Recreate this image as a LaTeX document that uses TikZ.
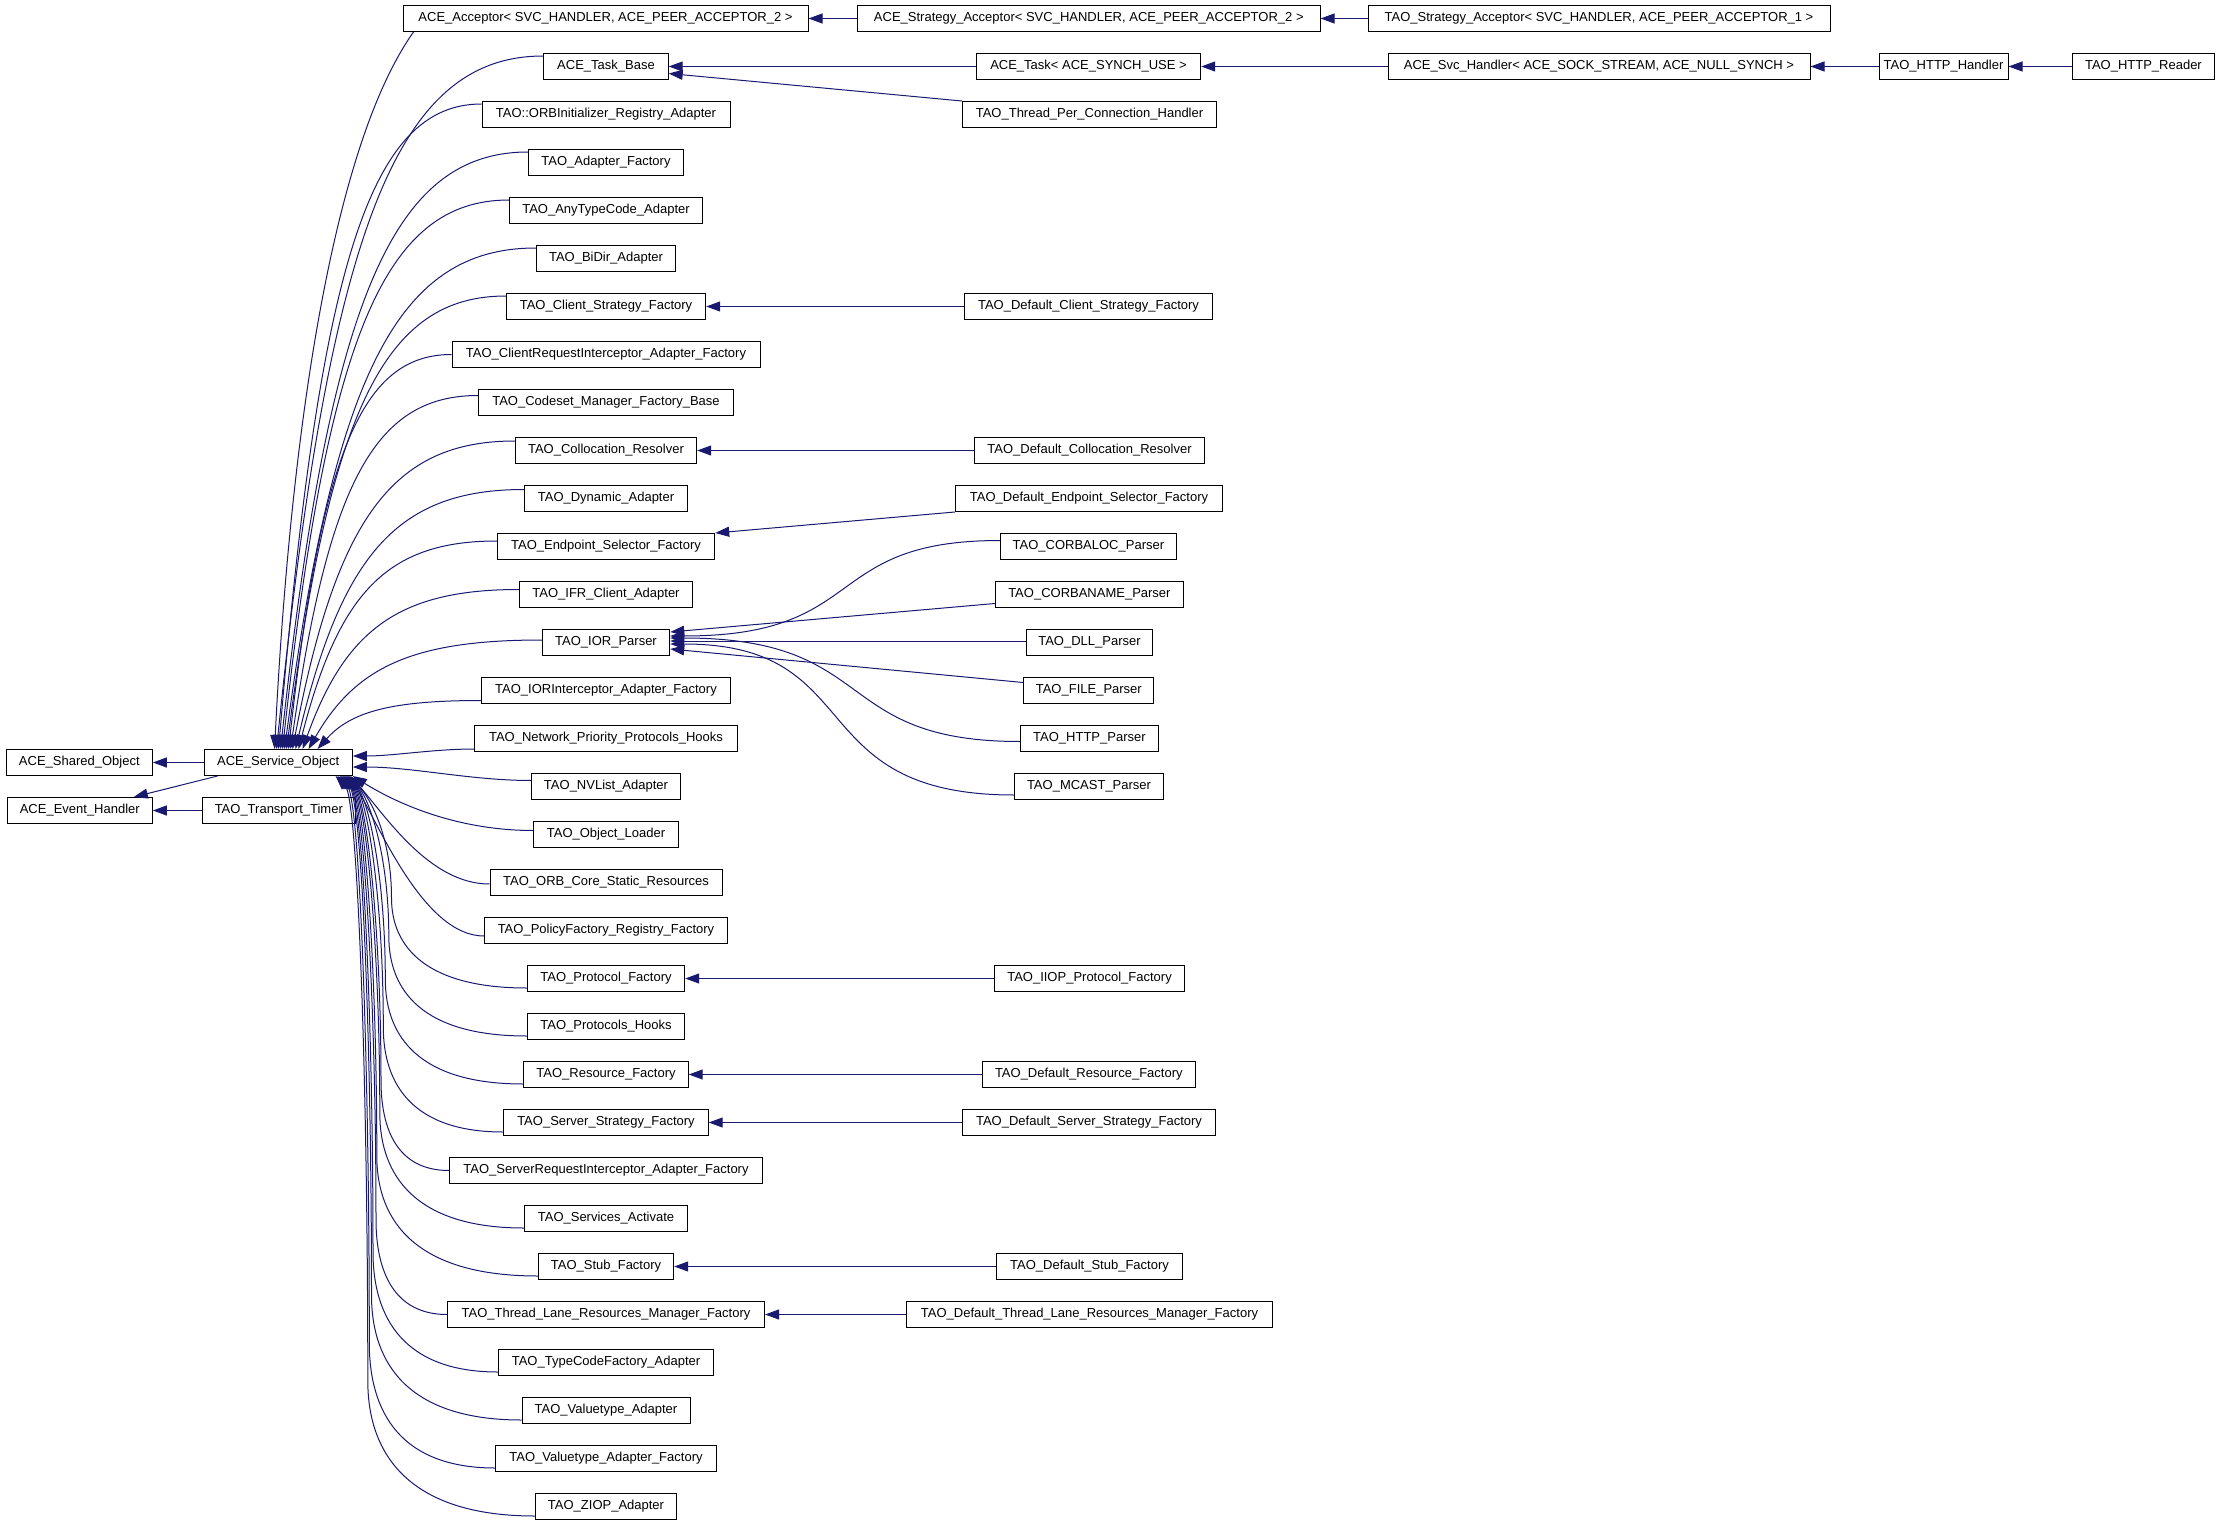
\documentclass[tikz,border=0pt]{standalone}
\usepackage{fontspec}
\setmainfont{Liberation Sans}
\usetikzlibrary{arrows.meta}
\definecolor{edgeblue}{HTML}{191970}

\begin{document}
\begin{tikzpicture}[x=1pt, y=-1pt,
    cls/.style={draw=black, fill=white, line width=1pt, minimum height=26pt, inner xsep=2pt, inner ysep=0pt, font=\fontsize{13}{15}\selectfont},
    inh/.style={draw=edgeblue, line width=1pt, -{Triangle[length=14pt, width=10pt]}}]
\useasboundingbox (0,0) rectangle (2219,1525);

% base classes on the left
\node[cls, minimum width=146pt] (shobj) at (79.3,762.5) {ACE\_Shared\_Object};
\node[cls, minimum width=145pt] (evh) at (79.8,810.5) {ACE\_Event\_Handler};
\node[cls, minimum width=148.3pt] (svcobj) at (278.2,762.5) {ACE\_Service\_Object};
\node[cls, minimum width=153pt] (timer) at (278.8,810.5) {TAO\_Transport\_Timer};

% direct subclasses of ACE_Service_Object
\node[cls, minimum width=405pt] (acc) at (605.5,18.5) {ACE\_Acceptor< SVC\_HANDLER, ACE\_PEER\_ACCEPTOR\_2 >};
\node[cls, minimum width=124.4pt] (tbase) at (606,66.5) {ACE\_Task\_Base};
\node[cls, minimum width=248pt] (orbreg) at (606,114.5) {TAO::ORBInitializer\_Registry\_Adapter};
\node[cls, minimum width=155pt] (adf) at (606,162.5) {TAO\_Adapter\_Factory};
\node[cls, minimum width=193pt] (anytc) at (606,210.5) {TAO\_AnyTypeCode\_Adapter};
\node[cls, minimum width=139.4pt] (bidir) at (606,258.5) {TAO\_BiDir\_Adapter};
\node[cls, minimum width=199.4pt] (csf) at (606,306.5) {TAO\_Client\_Strategy\_Factory};
\node[cls, minimum width=308pt] (crif) at (606,354.5) {TAO\_ClientRequestInterceptor\_Adapter\_Factory};
\node[cls, minimum width=255pt] (cmfb) at (606,402.5) {TAO\_Codeset\_Manager\_Factory\_Base};
\node[cls, minimum width=181.4pt] (colres) at (606,450.5) {TAO\_Collocation\_Resolver};
\node[cls, minimum width=163.4pt] (dyn) at (606,498.5) {TAO\_Dynamic\_Adapter};
\node[cls, minimum width=217.4pt] (esf) at (606,546.5) {TAO\_Endpoint\_Selector\_Factory};
\node[cls, minimum width=173.4pt] (ifr) at (606,594.5) {TAO\_IFR\_Client\_Adapter};
\node[cls, minimum width=127.4pt] (ior) at (606,642.5) {TAO\_IOR\_Parser};
\node[cls, minimum width=249.4pt] (iorif) at (606,690.5) {TAO\_IORInterceptor\_Adapter\_Factory};
\node[cls, minimum width=263pt] (nph) at (606,738.5) {TAO\_Network\_Priority\_Protocols\_Hooks};
\node[cls, minimum width=149pt] (nvl) at (606,786.5) {TAO\_NVList\_Adapter};
\node[cls, minimum width=144.4pt] (objl) at (606,834.5) {TAO\_Object\_Loader};
\node[cls, minimum width=232pt] (orbcsr) at (606,882.5) {TAO\_ORB\_Core\_Static\_Resources};
\node[cls, minimum width=243pt] (pfrf) at (606,930.5) {TAO\_PolicyFactory\_Registry\_Factory};
\node[cls, minimum width=157.4pt] (prf) at (606,978.5) {TAO\_Protocol\_Factory};
\node[cls, minimum width=157.4pt] (prh) at (606,1026.5) {TAO\_Protocols\_Hooks};
\node[cls, minimum width=164.4pt] (resf) at (606,1074.5) {TAO\_Resource\_Factory};
\node[cls, minimum width=204.4pt] (ssf) at (606,1122.5) {TAO\_Server\_Strategy\_Factory};
\node[cls, minimum width=313pt] (srif) at (606,1170.5) {TAO\_ServerRequestInterceptor\_Adapter\_Factory};
\node[cls, minimum width=163.4pt] (sact) at (606,1218.5) {TAO\_Services\_Activate};
\node[cls, minimum width=135.4pt] (stubf) at (606,1266.5) {TAO\_Stub\_Factory};
\node[cls, minimum width=317pt] (tlrmf) at (606,1314.5) {TAO\_Thread\_Lane\_Resources\_Manager\_Factory};
\node[cls, minimum width=215pt] (tcfa) at (606,1362.5) {TAO\_TypeCodeFactory\_Adapter};
\node[cls, minimum width=168pt] (vta) at (606,1410.5) {TAO\_Valuetype\_Adapter};
\node[cls, minimum width=220.4pt] (vtaf) at (606,1458.5) {TAO\_Valuetype\_Adapter\_Factory};
\node[cls, minimum width=141.4pt] (ziop) at (606,1506.5) {TAO\_ZIOP\_Adapter};

% third column
\node[cls, minimum width=462.5pt] (sacc) at (1088.8,18.5) {ACE\_Strategy\_Acceptor< SVC\_HANDLER, ACE\_PEER\_ACCEPTOR\_2 >};
\node[cls, minimum width=224.4pt] (task) at (1088.5,66.5) {ACE\_Task< ACE\_SYNCH\_USE >};
\node[cls, minimum width=254.4pt] (tpc) at (1089.5,114.5) {TAO\_Thread\_Per\_Connection\_Handler};
\node[cls, minimum width=248.4pt] (dcsf) at (1088.5,306.5) {TAO\_Default\_Client\_Strategy\_Factory};
\node[cls, minimum width=230.4pt] (dcolres) at (1089.5,450.5) {TAO\_Default\_Collocation\_Resolver};
\node[cls, minimum width=267.4pt] (desf) at (1089,498.5) {TAO\_Default\_Endpoint\_Selector\_Factory};
\node[cls, minimum width=176pt] (corbaloc) at (1088.4,546.5) {TAO\_CORBALOC\_Parser};
\node[cls, minimum width=188pt] (corbaname) at (1089.4,594.5) {TAO\_CORBANAME\_Parser};
\node[cls, minimum width=126.3pt] (dll) at (1089.5,642.5) {TAO\_DLL\_Parser};
\node[cls, minimum width=130.3pt] (file) at (1088.8,690.5) {TAO\_FILE\_Parser};
\node[cls, minimum width=138pt] (httpp) at (1089.4,738.5) {TAO\_HTTP\_Parser};
\node[cls, minimum width=148.7pt] (mcast) at (1089,786.5) {TAO\_MCAST\_Parser};
\node[cls, minimum width=190.4pt] (iiop) at (1089.5,978.5) {TAO\_IIOP\_Protocol\_Factory};
\node[cls, minimum width=213pt] (dresf) at (1088.8,1074.5) {TAO\_Default\_Resource\_Factory};
\node[cls, minimum width=253.4pt] (dssf) at (1089,1122.5) {TAO\_Default\_Server\_Strategy\_Factory};
\node[cls, minimum width=186.4pt] (dstubf) at (1089.5,1266.5) {TAO\_Default\_Stub\_Factory};
\node[cls, minimum width=366.4pt] (dtlrmf) at (1089.5,1314.5) {TAO\_Default\_Thread\_Lane\_Resources\_Manager\_Factory};

% right part of the top rows
\node[cls, minimum width=462pt] (tsacc) at (1599,18.5) {TAO\_Strategy\_Acceptor< SVC\_HANDLER, ACE\_PEER\_ACCEPTOR\_1 >};
\node[cls, minimum width=422pt] (svch) at (1599,66.5) {ACE\_Svc\_Handler< ACE\_SOCK\_STREAM, ACE\_NULL\_SYNCH >};
\node[cls, minimum width=129pt] (httph) at (1943.5,66.5) {TAO\_HTTP\_Handler};
\node[cls, minimum width=142.7pt] (httpr) at (2143.4,66.5) {TAO\_HTTP\_Reader};

% short links
\draw[inh] (svcobj) -- (shobj);
\draw[inh] ([xshift=14pt]svcobj.south west) -- ([xshift=-19pt]evh.north east);
\draw[inh] (timer) -- (evh);
\draw[inh] (sacc) -- (acc);
\draw[inh] (tsacc) -- (sacc);
\draw[inh] (task) -- (tbase);
\draw[inh] (tpc.north west) -- ([yshift=-7pt]tbase.east);
\draw[inh] (svch) -- (task);
\draw[inh] (httph) -- (svch);
\draw[inh] (httpr) -- (httph);
\draw[inh] (dcsf) -- (csf);
\draw[inh] (dcolres) -- (colres);
\draw[inh] (desf.south west) -- (esf.north east);
\draw[inh] (iiop) -- (prf);
\draw[inh] (dresf) -- (resf);
\draw[inh] (dssf) -- (ssf);
\draw[inh] (dstubf) -- (stubf);
\draw[inh] (dtlrmf) -- (tlrmf);

% parsers into TAO_IOR_Parser
\draw[inh] ([yshift=6pt]corbaloc.west) .. controls +(-180,0) and +(200,0) .. ([yshift=6.5pt]ior.east);
\draw[inh] ([yshift=-9pt]corbaname.west) -- ([yshift=10.5pt]ior.east);
\draw[inh] ([yshift=1.5pt]dll.west) -- ([yshift=1.5pt]ior.east);
\draw[inh] ([yshift=8pt]file.west) -- ([yshift=-6.5pt]ior.east);
\draw[inh] ([yshift=-3pt]httpp.west) .. controls +(-190,0) and +(210,0) .. ([yshift=4.5pt]ior.east);
\draw[inh] ([yshift=-8.5pt]mcast.west) .. controls +(-215,0) and +(200,0) .. ([yshift=-1.5pt]ior.east);

% upper fan into ACE_Service_Object
\draw[inh] ([xshift=11pt]acc.south west) .. controls +(-84,118.5) and +(15,-299.5) .. ([xshift=71pt]svcobj.north west);
\draw[inh] ([yshift=-3pt]tbase.north west) .. controls +(-147,0) and +(53,-520) .. ([xshift=73pt]svcobj.north west);
\draw[inh] ([yshift=-3pt]orbreg.north west) .. controls +(-112,0) and +(41,-484) .. ([xshift=75pt]svcobj.north west);
\draw[inh] ([yshift=-3pt]adf.north west) .. controls +(-136,0) and +(49,-448) .. ([xshift=77pt]svcobj.north west);
\draw[inh] ([yshift=-3pt]anytc.north west) .. controls +(-125,0) and +(45,-412) .. ([xshift=79pt]svcobj.north west);
\draw[inh] ([yshift=-3pt]bidir.north west) .. controls +(-138,0) and +(50,-376) .. ([xshift=81pt]svcobj.north west);
\draw[inh] ([yshift=-3pt]csf.north west) .. controls +(-121,0) and +(44,-340) .. ([xshift=83pt]svcobj.north west);
\draw[inh] (crif.west) .. controls +(-90,0) and +(33,-296) .. ([xshift=85pt]svcobj.north west);
\draw[inh] ([yshift=-6.5pt]cmfb.north west) .. controls +(-104,0) and +(38,-265) .. ([xshift=87pt]svcobj.north west);
\draw[inh] ([yshift=-4pt]colres.north west) .. controls +(-122,0) and +(44,-231) .. ([xshift=89pt]svcobj.north west);
\draw[inh] ([yshift=-4.5pt]dyn.north west) .. controls +(-126,0) and +(46,-195) .. ([xshift=92pt]svcobj.north west);
\draw[inh] ([yshift=-8pt]esf.north west) .. controls +(-110,0) and +(40,-156) .. ([xshift=95pt]svcobj.north west);
\draw[inh] ([yshift=-8.5pt]ifr.north west) .. controls +(-119,0) and +(43,-120) .. ([xshift=99pt]svcobj.north west);
\draw[inh] ([yshift=2.5pt]ior.west) .. controls +(-129,0) and +(47,-82) .. ([xshift=105pt]svcobj.north west);
\draw[inh] ([yshift=3.5pt]iorif.south west) .. controls +(-90,0) and +(33,-37) .. ([xshift=114pt]svcobj.north west);

% side links
\draw[inh] ([yshift=3pt]nph.south west) .. controls +(-40,0) and +(40,0) .. ([yshift=6.5pt]svcobj.east);
\draw[inh] ([yshift=6pt]nvl.west) .. controls +(-60,0) and +(60,0) .. ([yshift=-4.5pt]svcobj.east);

% lower fan into ACE_Service_Object
\draw[inh] ([yshift=4pt]objl.west) .. controls +(-80,0) and +(40,25) .. (svcobj.south east);
\draw[inh] ([yshift=-1.5pt]orbcsr.west) .. controls +(-60,0) and +(35,40) .. ([xshift=147pt]svcobj.south west);
\draw[inh] ([yshift=-5.5pt]pfrf.west) .. controls +(-60,0) and +(30,50) .. ([xshift=146pt]svcobj.south west);
\draw[inh] ([yshift=4pt]prf.south west) .. controls +(-100,0) and +(0,49.5) .. ++(-135.3,-90) .. controls +(0,-61) and +(22,22) .. ([xshift=145pt]svcobj.south west);
\draw[inh] ([yshift=4pt]prh.south west) .. controls +(-104,0) and +(0,55) .. ++(-138,-100) .. controls +(0,-80) and +(22,22) .. ([xshift=144pt]svcobj.south west);
\draw[inh] ([yshift=4pt]resf.south west) .. controls +(-104,0) and +(0,58) .. ++(-138,-105) .. controls +(0,-101) and +(22,22) .. ([xshift=143pt]svcobj.south west);
\draw[inh] ([yshift=4pt]ssf.south west) .. controls +(-90,0) and +(0,58) .. ++(-120,-105) .. controls +(0,-126) and +(22,22) .. ([xshift=142pt]svcobj.south west);
\draw[inh] (srif.west) .. controls +(-51,0) and +(0,50) .. ++(-68,-90) .. controls +(0,-153) and +(22,22) .. ([xshift=141pt]svcobj.south west);
\draw[inh] ([yshift=4pt]sact.south west) .. controls +(-108,0) and +(0,63) .. ++(-144,-115) .. controls +(0,-169) and +(22,22) .. ([xshift=140pt]svcobj.south west);
\draw[inh] ([yshift=4pt]stubf.south west) .. controls +(-121,0) and +(0,66) .. ++(-161,-120) .. controls +(0,-191) and +(22,22) .. ([xshift=139pt]svcobj.south west);
\draw[inh] (tlrmf.west) .. controls +(-53,0) and +(0,52) .. ++(-71,-95) .. controls +(0,-223) and +(22,22) .. ([xshift=138pt]svcobj.south west);
\draw[inh] ([yshift=4pt]tcfa.south west) .. controls +(-94,0) and +(0,66) .. ++(-125,-120) .. controls +(0,-239) and +(22,22) .. ([xshift=137pt]svcobj.south west);
\draw[inh] ([yshift=4pt]vta.south west) .. controls +(-113,0) and +(0,69) .. ++(-150,-125) .. controls +(0,-261) and +(22,22) .. ([xshift=136pt]svcobj.south west);
\draw[inh] ([yshift=4pt]vtaf.south west) .. controls +(-95,0) and +(0,69) .. ++(-126,-125) .. controls +(0,-285) and +(22,22) .. ([xshift=134pt]svcobj.south west);
\draw[inh] ([yshift=4pt]ziop.south west) .. controls +(-125,0) and +(0,74) .. ++(-167,-135) .. controls +(0,-304) and +(22,22) .. ([xshift=132pt]svcobj.south west);
\end{tikzpicture}
\end{document}
